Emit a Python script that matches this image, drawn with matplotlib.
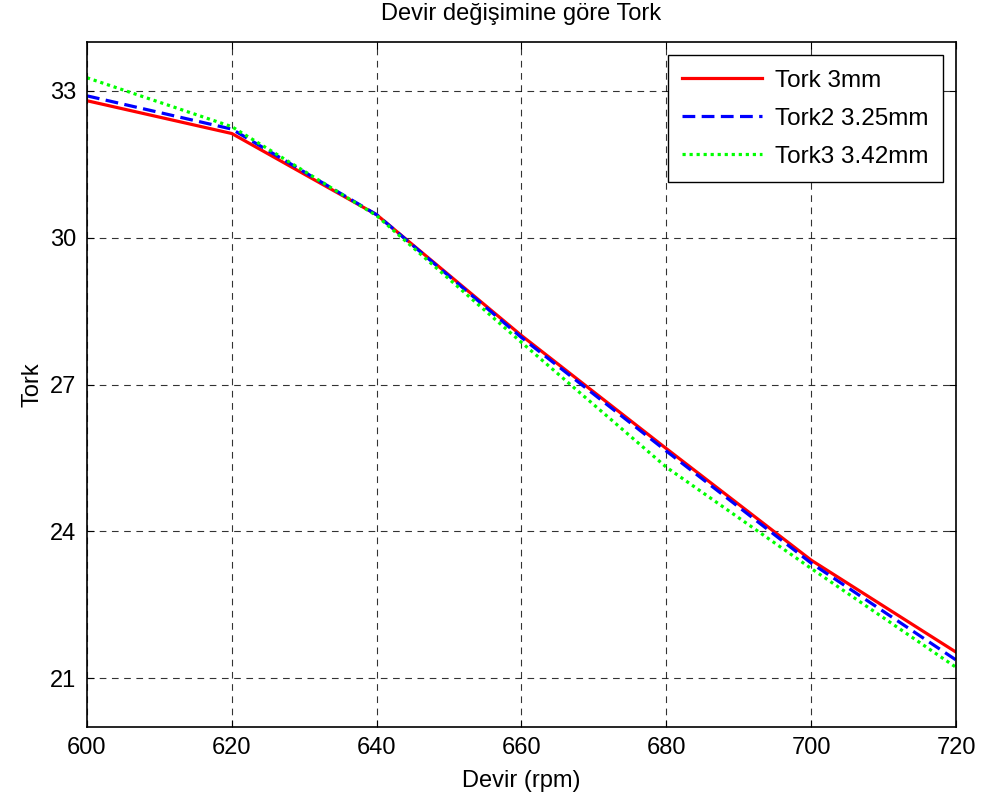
import numpy as np
import matplotlib
matplotlib.use("Agg")
import matplotlib.pyplot as plt

# data
devir = [600, 620, 640, 660, 680, 700, 720]
tork_3mm = [32.80, 32.13, 30.47, 28.00, 25.69, 23.41, 21.53]
tork_325mm = [32.90, 32.22, 30.47, 27.96, 25.64, 23.35, 21.37]
tork_342mm = [33.27, 32.27, 30.45, 27.86, 25.31, 23.24, 21.22]

labels = ["Tork 3mm", "Tork2 3.25mm", "Tork3 3.42mm"]

plt.rcParams["font.family"] = ["Liberation Sans", "DejaVu Sans"]

fig = plt.figure(figsize=(9.86, 8.05), dpi=100)
ax = fig.add_axes([0.0882, 0.0969, 0.8814, 0.8509])

ax.plot(devir, tork_3mm, color="#ff0000", linestyle="-", linewidth=2.3, label=labels[0])
ax.plot(devir, tork_325mm, color="#0000ff", linestyle=(0, (4, 2)), linewidth=2.3, label=labels[1])
ax.plot(devir, tork_342mm, color="#00ff00", linestyle=(0, (1, 1.2)), linewidth=2.3, label=labels[2])

ax.set_xlim(600, 720)
ax.set_ylim(20, 34)
ax.set_xticks(np.arange(600, 721, 20))
ax.set_yticks([21, 24, 27, 30, 33])

ax.grid(True, color="black", linestyle=(0, (6, 5)), linewidth=0.8, alpha=0.8)
ax.tick_params(direction="in", top=True, right=True, labelsize=17, length=5, width=0.8)
ax.tick_params(axis="x", pad=7)
ax.tick_params(axis="y", pad=8)
for s in ax.spines.values():
    s.set_linewidth(1.2)

ax.set_title("Devir değişimine göre Tork", fontsize=17, pad=16)
ax.set_xlabel("Devir (rpm)", fontsize=17, labelpad=8)
ax.set_ylabel("Tork", fontsize=17, labelpad=4)

leg = ax.legend(loc="upper right", fontsize=17.5, fancybox=False, framealpha=1,
                edgecolor="black", handlelength=3.3, borderaxespad=0.55,
                labelspacing=0.65, borderpad=0.6, handletextpad=0.5)
leg.get_frame().set_linewidth(1.0)

fig.savefig("out.png", dpi=100)
